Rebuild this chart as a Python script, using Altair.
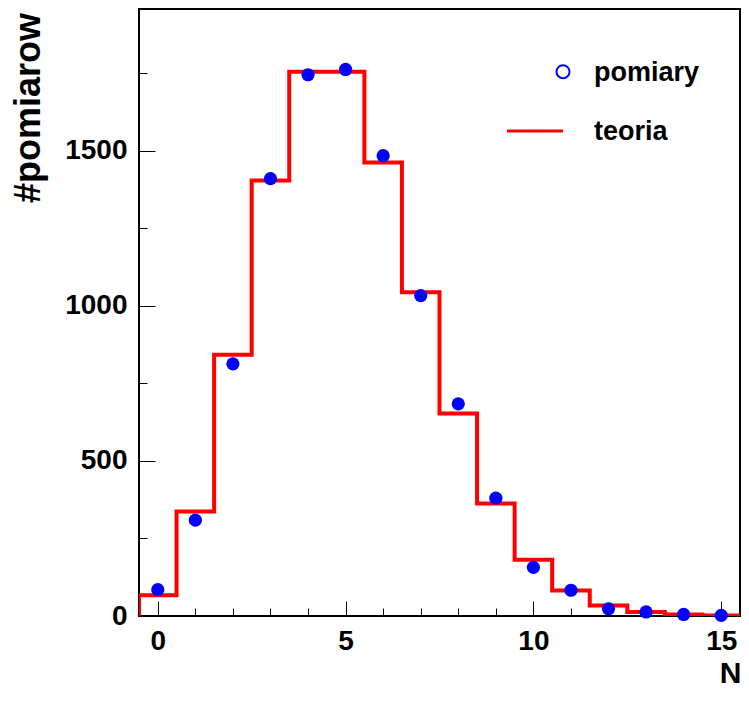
import altair as alt
import pandas as pd

# ---- data ----
N = list(range(16))
pomiary = [85, 309, 813, 1410, 1745, 1762, 1484, 1033, 684, 380, 157, 83, 23, 13, 5, 2]
teoria = [67, 337, 842, 1404, 1755, 1755, 1462, 1044, 653, 363, 181, 82, 34, 13, 5, 2]

x_major = [0, 5, 10, 15]
x_minor = [1, 2, 3, 4, 6, 7, 8, 9, 11, 12, 13, 14]
y_major = [0, 500, 1000, 1500]
y_minor = [250, 750, 1250, 1750]
legend_labels = ["pomiary", "teoria"]
x_title = "N"
y_title = "#pomiarow"

FONT = "Liberation Sans"
X_DOMAIN = [-0.5, 15.5]
Y_DOMAIN = [0, 1957]
RED = "#ff0000"
BLUE = "#0000ff"

W, H = 601, 607

# histogram outline (step) table built from the bin values
edges = [N[0] - 0.5] + [n - 0.5 for n in N] + [N[-1] + 0.5]
vals = [0] + teoria + [teoria[-1]]
step_df = pd.DataFrame({"x": edges, "y": vals, "i": list(range(len(edges)))})
pts_df = pd.DataFrame({"N": N, "count": pomiary})
one = pd.DataFrame({"a": [0]})

xs = alt.Scale(domain=X_DOMAIN, nice=False, zero=False)
ys = alt.Scale(domain=Y_DOMAIN, nice=False, zero=False)

common_lbl = dict(labelFont=FONT, labelFontSize=28, labelFontWeight="bold", labelColor="black")

x_major_axis = alt.Axis(
    values=x_major, orient="bottom", offset=-15, tickSize=15, tickColor="black", tickWidth=1,
    domain=False, grid=False, labelPadding=11, labelFlush=False, format="d", **common_lbl,
    title=x_title, titleFont=FONT, titleFontSize=30, titleFontWeight="bold", titleColor="black",
    titleX=W + 1, titleY=81.8, titleAlign="right", titleBaseline="alphabetic",
)
x_minor_axis = alt.Axis(
    values=x_minor, orient="bottom", offset=-8, tickSize=8, tickColor="black", tickWidth=1,
    domain=False, grid=False, labels=False, title="",
)
y_major_axis = alt.Axis(
    values=y_major, orient="left", offset=-16, tickSize=16, tickColor="black", tickWidth=1,
    domain=False, grid=False, labelPadding=12, format="d", **common_lbl,
    title=y_title, titleFont=FONT, titleFontSize=36, titleFontWeight="bold", titleColor="black",
    titleAngle=270, titleX=-116, titleY=3.5, titleAlign="right", titleBaseline="alphabetic",
)
y_minor_axis = alt.Axis(
    values=y_minor, orient="left", offset=-8, tickSize=8, tickColor="black", tickWidth=1,
    domain=False, grid=False, labels=False, title="",
)

theory = alt.Chart(step_df).mark_line(
    interpolate="step-after", color=RED, strokeWidth=4, strokeJoin="miter", clip=True
).encode(
    x=alt.X("x:Q", scale=xs, axis=x_major_axis),
    y=alt.Y("y:Q", scale=ys, axis=y_major_axis),
    order=alt.Order("i:Q"),
)

points = alt.Chart(pts_df).mark_circle(size=175, color=BLUE, opacity=1).encode(
    x=alt.X("N:Q", scale=xs, axis=x_minor_axis),
    y=alt.Y("count:Q", scale=ys, axis=y_minor_axis),
)

leg_circle = alt.Chart(one).mark_point(
    shape="circle", filled=False, color=BLUE, strokeWidth=2, size=170, opacity=1
).encode(x=alt.value(424), y=alt.value(62.7))

leg_line = alt.Chart(one).mark_rule(color=RED, strokeWidth=3).encode(
    x=alt.value(368), x2=alt.value(424), y=alt.value(122)
)

leg_text1 = alt.Chart(one).mark_text(
    align="left", baseline="alphabetic", font=FONT, fontSize=27, fontWeight="bold", color="black"
).encode(x=alt.value(455), y=alt.value(71.5), text=alt.value(legend_labels[0]))

leg_text2 = alt.Chart(one).mark_text(
    align="left", baseline="alphabetic", font=FONT, fontSize=27, fontWeight="bold", color="black"
).encode(x=alt.value(455), y=alt.value(130.5), text=alt.value(legend_labels[1]))

chart = (
    alt.layer(theory, points, leg_circle, leg_line, leg_text1, leg_text2)
    .resolve_axis(x="independent", y="independent")
    .properties(
        width=W,
        height=H,
        autosize=alt.AutoSizeParams(type="none"),
        padding={"left": 131, "top": 1, "right": 1, "bottom": 74},
        background="white",
    )
    .configure_view(stroke="black", strokeWidth=2)
)

chart.save("out.html", embed_options={"renderer": "svg", "actions": False})
